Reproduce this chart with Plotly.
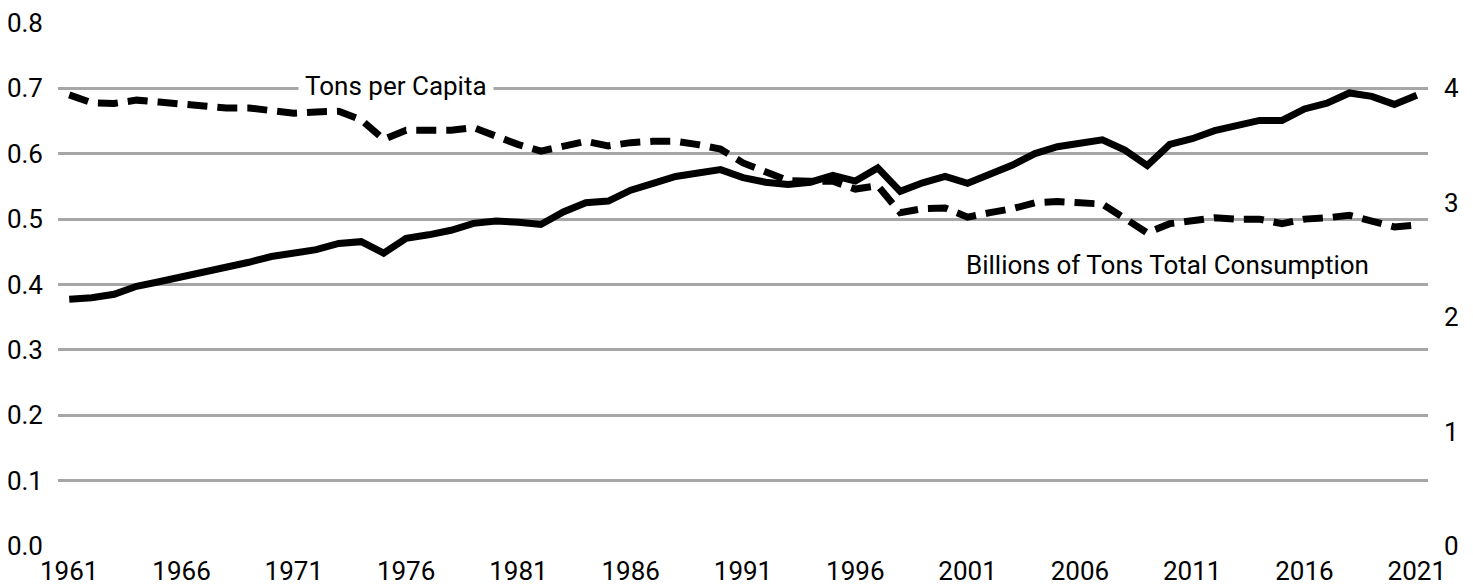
import plotly.graph_objects as go

years = list(range(1961, 2022))

tons_per_capita = [
    0.690, 0.678, 0.677, 0.682, 0.679, 0.675, 0.673, 0.670, 0.670, 0.666,
    0.662, 0.664, 0.665, 0.652, 0.622, 0.636, 0.635, 0.636, 0.640, 0.627,
    0.614, 0.604, 0.612, 0.619, 0.612, 0.617, 0.619, 0.619, 0.614, 0.607,
    0.586, 0.572, 0.559, 0.558, 0.558, 0.546, 0.551, 0.510, 0.516, 0.517,
    0.503, 0.510, 0.516, 0.525, 0.527, 0.525, 0.523, 0.501, 0.479, 0.493,
    0.498, 0.502, 0.500, 0.500, 0.493, 0.500, 0.502, 0.506, 0.497, 0.488,
    0.491,
]

total_billion_tons = [
    2.156, 2.17, 2.20, 2.27, 2.31, 2.35, 2.40, 2.44, 2.48, 2.53,
    2.56, 2.59, 2.645, 2.66, 2.56, 2.69, 2.72, 2.76, 2.82, 2.84,
    2.83, 2.81, 2.92, 3.00, 3.015, 3.11, 3.17, 3.23, 3.26, 3.29,
    3.22, 3.18, 3.16, 3.18, 3.24, 3.19, 3.305, 3.10, 3.175, 3.23,
    3.17, 3.25, 3.33, 3.43, 3.49, 3.52, 3.55, 3.46, 3.325, 3.51,
    3.56, 3.63, 3.67, 3.72, 3.72, 3.82, 3.87, 3.96, 3.93, 3.86,
    3.94,
]

x_ticks = list(range(1961, 2022, 5))
left_ticks = [0.0, 0.1, 0.2, 0.3, 0.4, 0.5, 0.6, 0.7, 0.8]
right_ticks = [0, 1, 2, 3, 4]

fig = go.Figure()

fig.add_trace(go.Scatter(
    x=years, y=tons_per_capita, mode="lines", name="Tons per Capita",
    line=dict(color="black", width=7, dash="20px,10px"),
    yaxis="y",
))
fig.add_trace(go.Scatter(
    x=years, y=total_billion_tons, mode="lines",
    name="Billions of Tons Total Consumption",
    line=dict(color="black", width=7),
    yaxis="y2",
))

font_main = "Roboto, Arial, sans-serif"
fs = 26

fig.update_layout(
    width=1473, height=588,
    margin=dict(l=50, r=53, t=15, b=50),
    paper_bgcolor="white", plot_bgcolor="white",
    showlegend=False,
    font=dict(family=font_main, size=fs, color="black"),
    xaxis=dict(
        range=[1960.5, 2021.5],
        tickmode="array", tickvals=x_ticks,
        ticktext=[str(t) for t in x_ticks],
        showgrid=False, zeroline=False, showline=False,
        ticks="", ticklabelstandoff=7, automargin=False,
        tickfont=dict(size=fs, family=font_main),
    ),
    yaxis=dict(
        range=[0, 0.8],
        tickmode="array", tickvals=left_ticks,
        ticktext=[f"{v:.1f}" for v in left_ticks],
        showgrid=True, gridcolor="#a6a6a6", gridwidth=2.5,
        zeroline=False, showline=False, ticks="",
        ticklabelstandoff=14, automargin=False,
        tickfont=dict(size=fs, family=font_main),
    ),
    yaxis2=dict(
        range=[0, 4 * 0.8 / 0.7],
        overlaying="y", side="right",
        tickmode="array", tickvals=right_ticks,
        ticktext=[str(v) for v in right_ticks],
        showgrid=False, zeroline=False, showline=False, ticks="",
        ticklabelstandoff=15, automargin=False,
        tickfont=dict(size=fs, family=font_main),
    ),
    annotations=[
        dict(
            x=1975.55, y=0.7, xref="x", yref="y",
            text="Tons per Capita", showarrow=False,
            font=dict(size=fs, family=font_main, color="black"),
            bgcolor="white", borderpad=6, yshift=2,
        ),
        dict(
            x=2009.88, y=0.43, xref="x", yref="y",
            text="Billions of Tons Total Consumption", showarrow=False,
            font=dict(size=fs, family=font_main, color="black"),
            bgcolor="white",
        ),
    ],
)

fig.write_html("out.html")
